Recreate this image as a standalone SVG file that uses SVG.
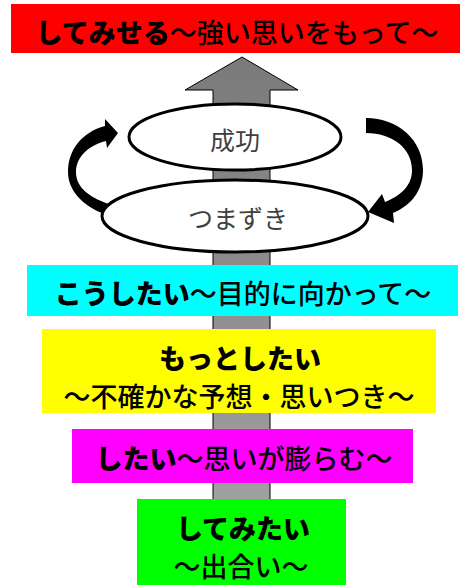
<svg xmlns="http://www.w3.org/2000/svg" width="461" height="586" viewBox="0 0 461 586">
<style>
.t{font-family:"Noto Sans CJK JP","Noto Sans CJK SC",sans-serif;font-size:27px;fill:#000;text-anchor:middle;dominant-baseline:central}
.b{font-weight:900}
.r{font-weight:500}
.el{fill:#fff;stroke:#000;stroke-width:3}
.et{font-family:"Noto Sans CJK JP",sans-serif;font-size:25px;fill:#404040;text-anchor:middle;dominant-baseline:central}
</style>
<defs>
<linearGradient id="g" x1="0" y1="0" x2="0" y2="1">
<stop offset="0" stop-color="#7a7a7a"/>
<stop offset="1" stop-color="#a0a0a0"/>
</linearGradient>
</defs>
<g id="connectors">
<polygon id="bigArrow" points="242,57 298,90 270,90 270,500 213,500 213,90 185,90" fill="url(#g)" stroke="#000" stroke-width="1"/>
<path id="leftCurve" d="M118,133 L105,119 L105,126 C82,132 68,150 68,172 C68,190 82,205 102,213 L112,205 C90,198 76,188 76,172 C76,156 90,145 106,141 L107,148 Z" fill="#000"/>
<path id="rightCurve" d="M366,118 C398,118 423,140 423,170 C423,190 412,205 393,213 L394,223 L368,212 L382,194 L385,202 C402,195 412,185 412,170 C412,148 392,133 366,133 Z" fill="#000"/>
</g>
<g id="n-top">
<rect x="11" y="4" width="449" height="49" fill="#ff0000"/>
<text class="t" x="237" y="31"><tspan class="b">してみせる</tspan><tspan class="r">〜強い思いをもって〜</tspan></text>
</g>
<g id="n-success">
<ellipse class="el" cx="235" cy="137" rx="106" ry="33"/>
<text class="et" x="235" y="139">成功</text>
</g>
<g id="n-stumble">
<ellipse class="el" cx="235" cy="216" rx="133" ry="36"/>
<text class="et" x="238" y="217">つまずき</text>
</g>
<g id="n-koushitai">
<rect x="27" y="265" width="431" height="51" fill="#00ffff"/>
<text class="t" x="243" y="292"><tspan class="b">こうしたい</tspan><tspan class="r">〜目的に向かって〜</tspan></text>
</g>
<g id="n-motto">
<rect x="42" y="329" width="394" height="84" fill="#ffff00"/>
<text class="t b" x="240" y="357">もっとしたい</text>
<text class="t r" x="239" y="395">〜不確かな予想・思いつき〜</text>
</g>
<g id="n-shitai">
<rect x="72" y="429" width="341" height="54" fill="#ff00ff"/>
<text class="t" x="244" y="457"><tspan class="b">したい</tspan><tspan class="r">〜思いが膨らむ〜</tspan></text>
</g>
<g id="n-shitemitai">
<rect x="137" y="499" width="209" height="86" fill="#00ff00"/>
<text class="t b" x="243" y="527">してみたい</text>
<text class="t r" x="241" y="565">〜出合い〜</text>
</g>
</svg>
